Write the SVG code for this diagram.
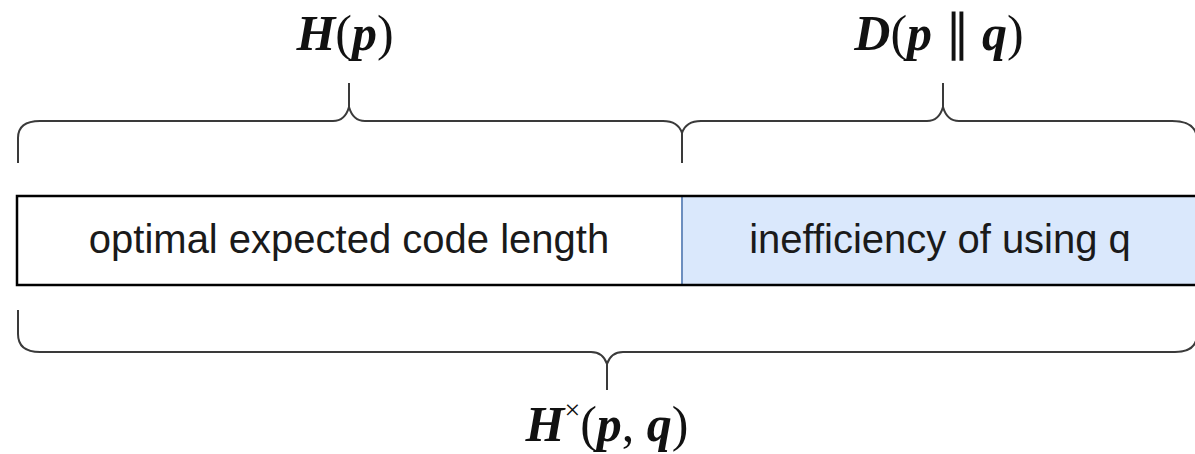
<svg xmlns="http://www.w3.org/2000/svg" width="1195" height="454" viewBox="0 0 1195 454">
  <style>
    .brace { fill: none; stroke: #3a3a3a; stroke-width: 2; stroke-linecap: butt; stroke-linejoin: round; }
    .label { font-family: "Liberation Sans", Arial, sans-serif; font-size: 40px; fill: #1a1a1a; text-anchor: middle; }
    .math { font-family: "Liberation Serif", "Times New Roman", serif; font-size: 50px; font-style: italic; font-weight: bold; fill: #111; text-anchor: middle; }
    .up { font-style: normal; font-weight: normal; }
  </style>
  <rect width="1195" height="454" fill="#ffffff"/>

  <g id="cell-left">
    <rect x="17" y="196" width="665" height="89" fill="#ffffff"/>
    <text class="label" x="349" y="253">optimal expected code length</text>
  </g>
  <g id="cell-right">
    <rect x="682" y="196" width="520" height="89" fill="#dae8fc"/>
    <text class="label" x="940" y="253">inefficiency of using q</text>
  </g>
  <g id="box-outline">
    <line x1="682" y1="197" x2="682" y2="284" stroke="#6c8ebf" stroke-width="2"/>
    <rect x="17" y="196" width="1190" height="89" fill="none" stroke="#000" stroke-width="2.5"/>
  </g>

  <g id="connectors">
    <!-- top brace H(p) -->
    <path class="brace" d="M18,163 V138 Q18,121 40,121 H333 Q345,121 349,107 Q353,121 365,121 H663 Q678,121 682,133 V163"/>
    <path class="brace" d="M349,107 V83"/>
    <!-- top brace D(p||q) -->
    <path class="brace" d="M682,133 Q686,121 701,121 H927 Q939,121 943,107 Q947,121 959,121 H1172 Q1197,121 1197,140 V163"/>
    <path class="brace" d="M943,107 V83"/>
    <!-- bottom brace -->
    <path class="brace" d="M18,310 V334 Q18,352 40,352 H591 Q603,352 607,364 Q611,352 623,352 H1175 Q1197,352 1197,334 V310"/>
    <path class="brace" d="M607,364 V390"/>
  </g>

  <g id="label-Hp">
    <text class="math" x="345" y="50">H<tspan class="up">(</tspan>p<tspan class="up">)</tspan></text>
  </g>
  <g id="label-D">
    <text class="math" x="939" y="50">D<tspan class="up">(</tspan>p<tspan class="up"> ∥ </tspan>q<tspan class="up">)</tspan></text>
  </g>
  <g id="label-Hx">
    <text class="math" x="607" y="441">H<tspan font-size="28" dy="-22" class="up">×</tspan><tspan dy="22" class="up">(</tspan>p<tspan class="up">, </tspan>q<tspan class="up">)</tspan></text>
  </g>
</svg>
